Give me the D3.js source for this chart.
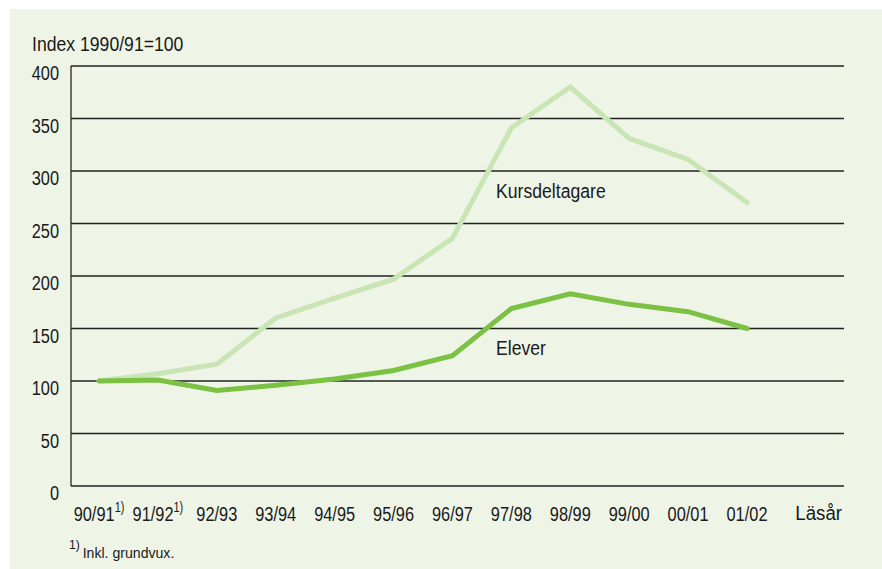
<!DOCTYPE html>
<html><head><meta charset="utf-8">
<script src="https://cdn.jsdelivr.net/npm/d3@7"></script>
<style>
html,body{margin:0;padding:0;background:#fff;}
svg text{font-family:"Liberation Sans","Arial",sans-serif;fill:#1a1a1a;}
</style></head>
<body>
<svg id="c" width="882" height="569"></svg>
<script>
const categories = ["90/91","91/92","92/93","93/94","94/95","95/96","96/97","97/98","98/99","99/00","00/01","01/02"];
const footnoted = ["90/91","91/92"];
const elever = [100,101,91,96,102,110,124,169,183,173,166,150];
const kursdeltagare = [100,107,116,160,179,197,236,341,380,331,311,270];
const yTicks = [0,50,100,150,200,250,300,350,400];
const seriesNames = ["Kursdeltagare","Elever"];

(function(){
const svg = d3.select("#c");
svg.append("rect").attr("x",10).attr("y",9).attr("width",872).attr("height",560).attr("fill","#eef5e7");

const mLeft = 71, mRight = 844, mTop = 66, mBottom = 486;
const x = d3.scalePoint().domain(categories).range([99, 747]);
const y = d3.scaleLinear().domain([0,400]).range([mBottom, mTop]);

function label(px, py, str, size, sx, anchor){
  const g = svg.append("g").attr("transform",`translate(${px},${py}) scale(${sx},1)`);
  return g.append("text").attr("text-anchor",anchor||"start").attr("font-size",size).text(str);
}

svg.append("g").selectAll("line").data(yTicks).join("line")
  .attr("x1", mLeft).attr("x2", mRight)
  .attr("y1", d=>y(d)).attr("y2", d=>y(d))
  .attr("stroke","#222").attr("stroke-width",1.3);
svg.append("line").attr("x1",mLeft).attr("x2",mLeft).attr("y1",mTop).attr("y2",mBottom)
  .attr("stroke","#222").attr("stroke-width",1.3);

yTicks.forEach(d=>label(59, y(d)+14, d, 21, 0.78, "end"));

label(32, 51, "Index 1990/91=100", 21, 0.84);

categories.forEach(d=>{
  const t = label(x(d), 521, null, 21, 0.78, "middle");
  t.append("tspan").text(d);
  if (footnoted.includes(d)) t.append("tspan").attr("font-size",14).attr("dy",-9).text("1)");
});

label(842, 520, "Läsår", 21, 0.89, "end");

const fn = label(69, 558, null, 15, 0.94);
fn.append("tspan").attr("font-size",13).attr("dy",-9).text("1)");
fn.append("tspan").attr("dy",9).attr("dx",3).text("Inkl. grundvux.");

const line = d3.line().x((d,i)=>x(categories[i])).y(d=>y(d));
svg.append("path").datum(kursdeltagare).attr("d",line).attr("fill","none")
  .attr("stroke","#c9e4b5").attr("stroke-width",5).attr("stroke-linejoin","miter").attr("stroke-linecap","round");
svg.append("path").datum(elever).attr("d",line).attr("fill","none")
  .attr("stroke","#7bc143").attr("stroke-width",5).attr("stroke-linejoin","miter").attr("stroke-linecap","round");

label(496, 198, seriesNames[0], 21, 0.84);
label(496, 355, seriesNames[1], 21, 0.84);
})();
</script>
</body></html>
